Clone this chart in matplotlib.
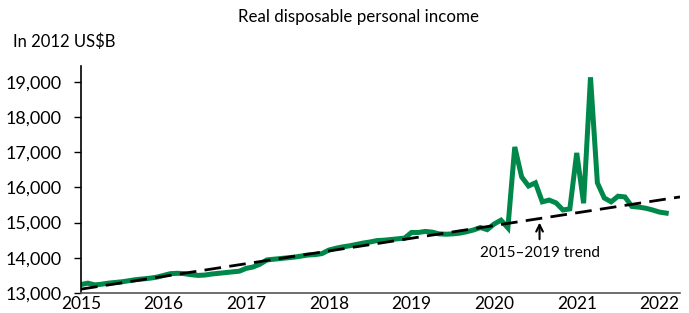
import matplotlib
matplotlib.use("Agg")
import matplotlib.pyplot as plt
import numpy as np

plt.rcParams['font.family'] = ['Lato', 'DejaVu Sans']

start_year = 2015
income = [
    # 2015
    13240, 13280, 13230, 13250, 13280, 13300, 13320, 13350, 13380, 13400, 13420, 13450,
    # 2016
    13500, 13550, 13560, 13550, 13520, 13500, 13510, 13540, 13560, 13580, 13600, 13620,
    # 2017
    13700, 13740, 13820, 13940, 13960, 13980, 14000, 14020, 14050, 14080, 14090, 14120,
    # 2018
    14220, 14270, 14310, 14340, 14380, 14420, 14450, 14490, 14500, 14520, 14540, 14560,
    # 2019
    14720, 14720, 14750, 14730, 14680, 14670, 14680, 14700, 14740, 14790, 14860, 14800,
    # 2020
    14960, 15070, 14850, 17150, 16300, 16040, 16130, 15590, 15640, 15560, 15360, 15390,
    # 2021
    16980, 15550, 19130, 16130, 15700, 15590, 15750, 15730, 15460, 15440, 15410, 15360,
    # 2022
    15300, 15270,
]
trend_x = [2015.0, 2022.25]
trend_y = [13110, 15730]

year_ticks = [2015, 2016, 2017, 2018, 2019, 2020, 2021, 2022]
y_ticks = [13000, 14000, 15000, 16000, 17000, 18000, 19000]

dates = start_year + np.arange(len(income)) / 12.0

fig = plt.figure(figsize=(6.89, 3.13), dpi=100)
ax = fig.add_axes([81/689, 1 - 293/313, (680 - 81)/689, (293 - 66)/313])

ax.plot(trend_x, trend_y, color='black', lw=2.0, dashes=(6, 3), zorder=3)
ax.plot(dates, income, color='#00884a', lw=3.6, solid_joinstyle='miter', zorder=2)

ax.set_xlim(2015.0, 2022.25)
ax.set_ylim(13000, 19450)
ax.set_xticks(year_ticks)
ax.set_xticklabels([str(y) for y in year_ticks])
ax.set_yticks(y_ticks)
ax.set_yticklabels([f"{v:,}" for v in y_ticks])

for s in ['top', 'right']:
    ax.spines[s].set_visible(False)
ax.spines['left'].set_color('black')
ax.spines['left'].set_linewidth(1.2)
ax.spines['bottom'].set_color('#555555')
ax.spines['bottom'].set_linewidth(1.2)
ax.tick_params(axis='x', length=0, labelsize=12.5, pad=2.5, colors='black')
ax.tick_params(axis='y', length=5, width=1, labelsize=13, pad=9, colors='black', direction='out')

fig.text(358/689, 1 - 17/313, "Real disposable personal income", ha='center', va='center', fontsize=12.2)
fig.text(13/689, 1 - 42/313, "In 2012 US$B", ha='left', va='center', fontsize=12)

ax.annotate("", xy=(2020.55, 15080), xytext=(2020.55, 14450),
            arrowprops=dict(arrowstyle='->', color='black', lw=1.5, mutation_scale=12))
ax.text(2020.55, 14150, "2015\u20132019 trend", ha='center', va='center', fontsize=11)

fig.savefig("out.png", dpi=100)
